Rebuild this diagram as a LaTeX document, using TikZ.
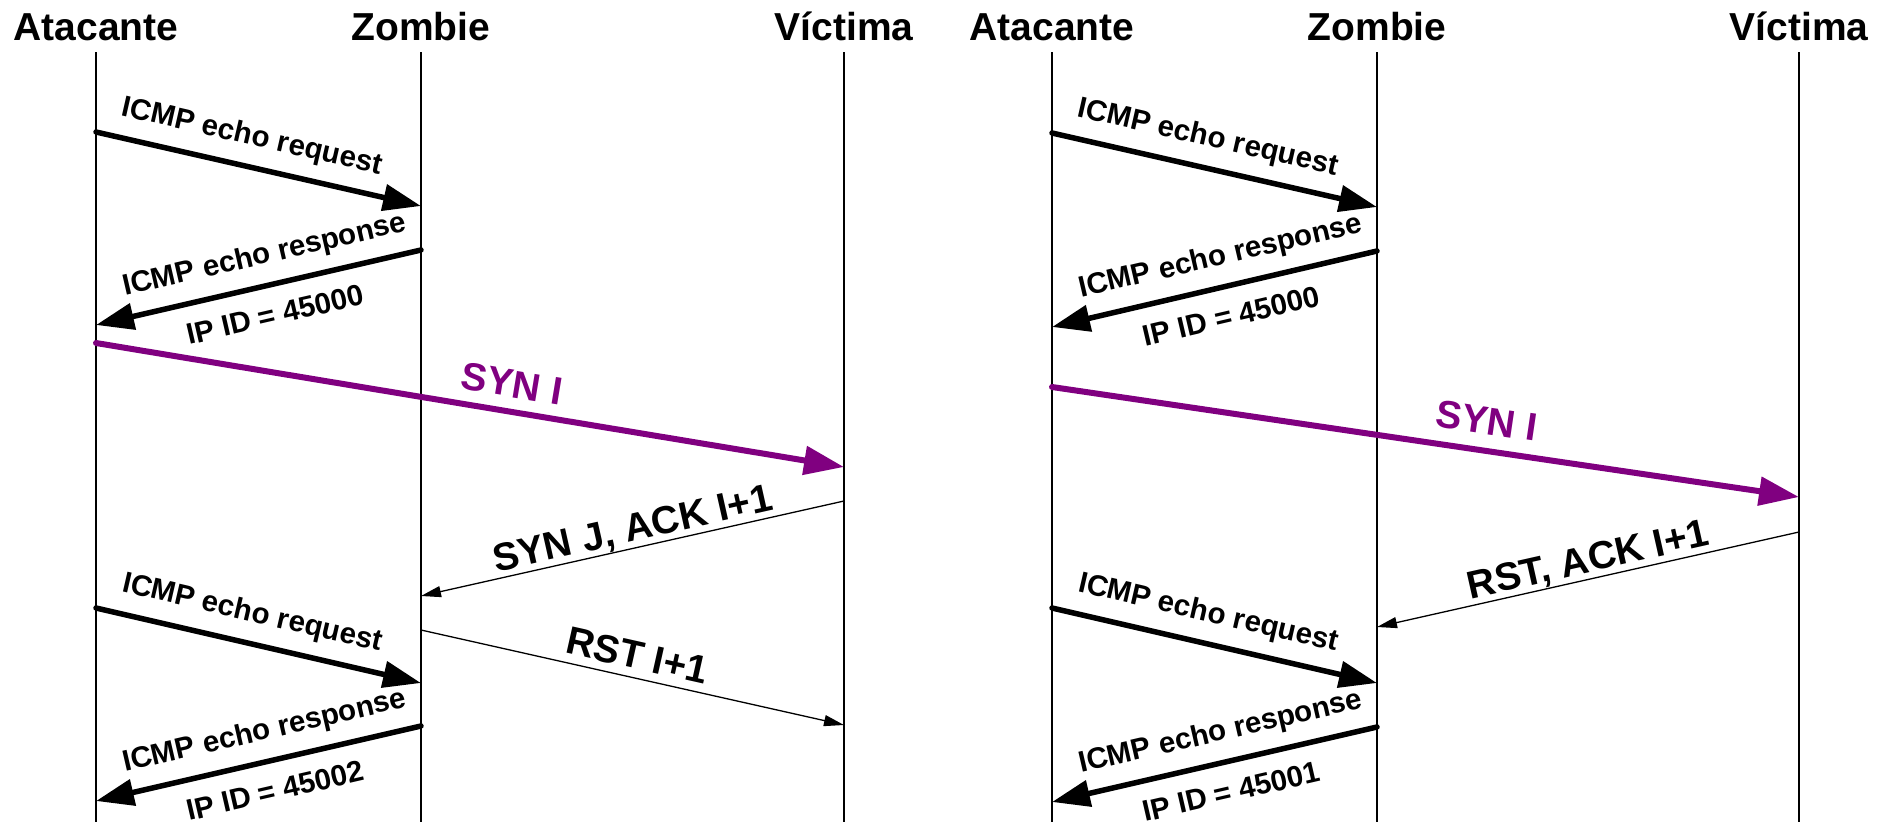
\documentclass[tikz,border=0pt]{standalone}
\usepackage{fontspec}
\setmainfont{Liberation Sans}
\usetikzlibrary{arrows.meta}
\definecolor{synpurple}{RGB}{128,0,128}
\begin{document}
\begin{tikzpicture}[x=1pt,y=-1pt,
  title/.style={font=\fontsize{39}{39}\selectfont\bfseries, anchor=base, inner sep=0pt},
  lifeline/.style={line width=2pt},
  thickmsg/.style={line width=5.5pt, line cap=round, -{Triangle[length=38pt,width=26pt]}},
  purplemsg/.style={line width=6pt, line cap=round, draw=synpurple, -{Triangle[length=40pt,width=28pt]}},
  thinmsg/.style={line width=1.3pt, -{Triangle[length=20pt,width=11pt]}},
  small/.style={font=\fontsize{29.5}{30}\selectfont\bfseries, inner sep=0pt, sloped},
  big/.style={font=\fontsize{39}{39}\selectfont\bfseries, inner sep=0pt, sloped},
]
\useasboundingbox (0,0) rectangle (1880,822);

% ---------- titles ----------
\node[title] (tA1) at (96,40) {Atacante};
\node[title] (tZ1) at (421,40) {Zombie};
\node[title] (tV1) at (844,40) {Víctima};
\node[title] (tA2) at (1052,40) {Atacante};
\node[title] (tZ2) at (1377,40) {Zombie};
\node[title] (tV2) at (1799,40) {Víctima};

% ---------- lifelines ----------
\foreach \n/\x in {A1/96, Z1/421, V1/844, A2/1052, Z2/1377, V2/1799}{
  \coordinate (top\n) at (\x,52);
  \coordinate (bot\n) at (\x,822);
  \draw[lifeline] (top\n) -- (bot\n);
}

% ---------- left panel endpoints ----------
\coordinate (l1s) at (96,132);   \coordinate (l1e) at (421,206);
\coordinate (l2s) at (421,250);  \coordinate (l2e) at (96,325);
\coordinate (l3s) at (96,343);   \coordinate (l3e) at (844,467);
\coordinate (l4s) at (844,501);  \coordinate (l4e) at (421,596);
\coordinate (l5s) at (96,608);   \coordinate (l5e) at (421,683);
\coordinate (l6s) at (421,630);  \coordinate (l6e) at (844,725);
\coordinate (l7s) at (421,726);  \coordinate (l7e) at (96,801);

% ---------- right panel endpoints ----------
\coordinate (r1s) at (1052,133); \coordinate (r1e) at (1377,207);
\coordinate (r2s) at (1377,251); \coordinate (r2e) at (1052,327);
\coordinate (r3s) at (1052,387); \coordinate (r3e) at (1799,497);
\coordinate (r4s) at (1799,532); \coordinate (r4e) at (1377,627);
\coordinate (r5s) at (1052,608); \coordinate (r5e) at (1377,683);
\coordinate (r6s) at (1377,727); \coordinate (r6e) at (1052,802);

% ---------- left messages ----------
\draw[thickmsg] (l1s) -- node[small, pos=0.46, above=13pt] (l1lab) {ICMP echo request} (l1e);
\draw[thickmsg] (l2s) -- node[small, pos=0.46, above=13pt] (l2lab) {ICMP echo response}
                         node[small, pos=0.47, below=17pt] (l2id) {IP ID = 45000} (l2e);
\draw[purplemsg] (l3s) -- node[big, pos=0.55, above=11pt, text=synpurple] (l3lab) {SYN I} (l3e);
\draw[thinmsg] (l4s) -- node[big, pos=0.49, above=0pt] (l4lab) {SYN J, ACK I+1} (l4e);
\draw[thickmsg] (l5s) -- node[small, pos=0.46, above=13pt] (l5lab) {ICMP echo request} (l5e);
\draw[thinmsg] (l6s) -- node[big, pos=0.5, above=8pt] (l6lab) {RST I+1} (l6e);
\draw[thickmsg] (l7s) -- node[small, pos=0.46, above=13pt] (l7lab) {ICMP echo response}
                         node[small, pos=0.47, below=17pt] (l7id) {IP ID = 45002} (l7e);

% ---------- right messages ----------
\draw[thickmsg] (r1s) -- node[small, pos=0.46, above=13pt] (r1lab) {ICMP echo request} (r1e);
\draw[thickmsg] (r2s) -- node[small, pos=0.46, above=13pt] (r2lab) {ICMP echo response}
                         node[small, pos=0.47, below=17pt] (r2id) {IP ID = 45000} (r2e);
\draw[purplemsg] (r3s) -- node[big, pos=0.576, above=13pt, text=synpurple] (r3lab) {SYN I} (r3e);
\draw[thinmsg] (r4s) -- node[big, pos=0.49, above=0pt] (r4lab) {RST, ACK I+1} (r4e);
\draw[thickmsg] (r5s) -- node[small, pos=0.46, above=13pt] (r5lab) {ICMP echo request} (r5e);
\draw[thickmsg] (r6s) -- node[small, pos=0.46, above=13pt] (r6lab) {ICMP echo response}
                         node[small, pos=0.47, below=17pt] (r6id) {IP ID = 45001} (r6e);
\end{tikzpicture}
\end{document}
